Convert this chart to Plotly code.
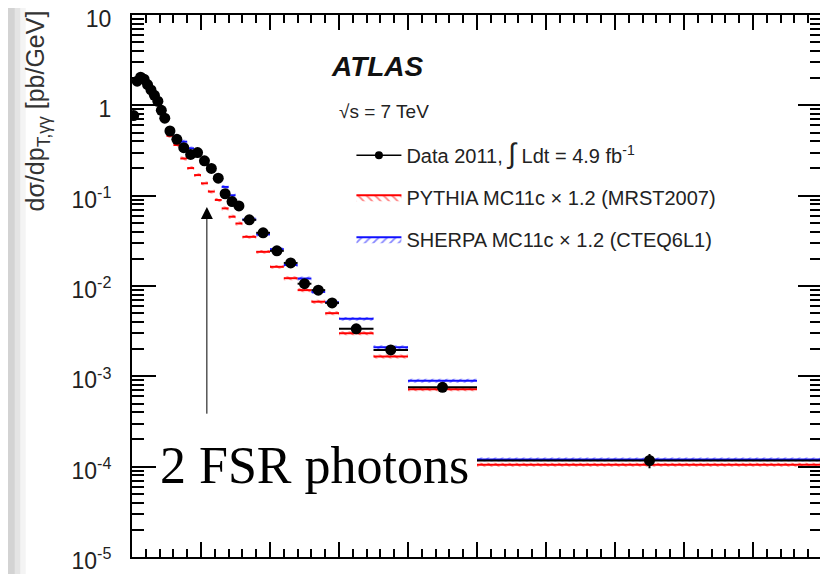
import plotly.graph_objects as go
import numpy as np

# ---------------- data ----------------
bin_edges = [0, 1, 2, 3, 4, 5, 6, 7, 8, 9, 10,
             12, 14, 16, 18, 20, 22, 24, 26, 28, 30, 32,
             36, 40, 44, 48, 52, 56, 60, 70, 80, 100, 200]

data_vals = [0.77, 1.85, 2.05, 1.95, 1.70, 1.48, 1.29, 1.11, 0.88, 0.72,
             0.52, 0.42, 0.34, 0.286, 0.30, 0.243, 0.20, 0.156, 0.105, 0.086, 0.077,
             0.054, 0.0388, 0.0245, 0.018, 0.0106, 0.0090, 0.0065,
             0.00336, 0.00196, 0.000755, 0.000117]
data_err_pct = [4, 3, 3, 3, 3, 3, 3, 3, 3, 3,
                3, 3, 3, 3, 3, 3, 3, 4, 4, 4, 4,
                4, 4, 5, 5, 6, 6, 7,
                8, 8, 10, 18]

pythia_vals = [0.75, 1.80, 2.00, 1.90, 1.66, 1.46, 1.26, 1.06, 0.86, 0.68,
               0.46, 0.364, 0.258, 0.202, 0.169, 0.137, 0.111, 0.0896, 0.0723, 0.0585, 0.0492,
               0.035, 0.0239, 0.0163, 0.0122, 0.0090, 0.0067, 0.0050,
               0.0030, 0.00166, 0.00072, 0.000105]

sherpa_vals = [0.78, 1.85, 2.05, 1.95, 1.70, 1.48, 1.29, 1.10, 0.88, 0.72,
               0.56, 0.45, 0.396, 0.334, 0.29, 0.24, 0.20, 0.155, 0.125, 0.101, 0.080,
               0.0545, 0.0372, 0.0256, 0.0171, 0.0121, 0.0086, 0.0066,
               0.00433, 0.0021, 0.000895, 0.00012]

band_pct = 5

y_tick_vals = [1e-5, 1e-4, 1e-3, 1e-2, 1e-1, 1, 10]
y_tick_text = ["10<sup>-5</sup>", "10<sup>-4</sup>", "10<sup>-3</sup>", "10<sup>-2</sup>",
               "10<sup>-1</sup>", "1", "10"]

data_label = "Data 2011, <span style='font-size:28px'>∫</span> Ldt = 4.9 fb<sup>-1</sup>"
pythia_label = "PYTHIA MC11c × 1.2 (MRST2007)"
sherpa_label = "SHERPA MC11c × 1.2 (CTEQ6L1)"

# ---------------- helpers ----------------
lo = np.array(bin_edges[:-1], dtype=float)
hi = np.array(bin_edges[1:], dtype=float)
centers = (lo + hi) / 2
half_w = (hi - lo) / 2


def step_lines(vals):
    xs, ys = [], []
    for a, b, v in zip(lo, hi, vals):
        xs += [a, b, None]
        ys += [v, v, None]
    return xs, ys


def band(vals, pct):
    xs, ys = [], []
    f = pct / 100.0
    for a, b, v in zip(lo, hi, vals):
        xs += [a, b, b, a, a, None]
        ys += [v * (1 - f), v * (1 - f), v * (1 + f), v * (1 + f), v * (1 - f), None]
    return xs, ys


fig = go.Figure()

mc = [
    (pythia_vals, "#ff0000", "\\", pythia_label, 2),
    (sherpa_vals, "#1010ff", "/", sherpa_label, 3),
]
for vals, col, shape, label, rank in mc:
    bx, by = band(vals, band_pct)
    fig.add_trace(go.Scatter(
        x=bx, y=by, mode="lines", fill="toself",
        fillcolor="rgba(0,0,0,0)",
        fillpattern=dict(shape=shape, fgcolor=col, size=5, solidity=0.3),
        line=dict(width=0, color=col),
        hoverinfo="skip", showlegend=False, legendgroup=label))
    sx, sy = step_lines(vals)
    fig.add_trace(go.Scatter(
        x=sx, y=sy, mode="lines", line=dict(color=col, width=2),
        showlegend=False, legendgroup=label, hoverinfo="skip"))
    # legend swatch
    fig.add_trace(go.Scatter(
        x=[None], y=[None], mode="lines", fill="toself",
        fillcolor="rgba(0,0,0,0)",
        fillpattern=dict(shape=shape, fgcolor=col, size=6, solidity=0.3),
        line=dict(color=col, width=2), name=label, legendgroup=label,
        legendrank=rank, showlegend=True))

# data
fig.add_trace(go.Scatter(
    x=centers, y=data_vals, mode="markers",
    marker=dict(color="black", size=11),
    error_x=dict(type="data", array=half_w, color="black", thickness=2, width=0),
    error_y=dict(type="data",
                 array=[v * p / 100 for v, p in zip(data_vals, data_err_pct)],
                 color="black", thickness=2, width=0),
    showlegend=False, hoverinfo="skip"))
fig.add_trace(go.Scatter(
    x=[None], y=[None], mode="lines+markers", name=data_label,
    line=dict(color="black", width=1.5), marker=dict(color="black", size=8),
    legendgroup="data", legendrank=1))

font_main = "Liberation Sans, Arial, sans-serif"

# faint grey strip at the very left edge of the slide
for i, op in enumerate([0.10, 0.16, 0.22]):
    fig.add_shape(type="rect", xref="paper", yref="paper",
                  x0=-0.18, x1=-0.18 + 0.026 - i * 0.008, y0=-0.04, y1=1.03,
                  fillcolor=f"rgba(150,150,150,{op})", line=dict(width=0), layer="below")

# The page body has an 8px default margin; the figure size compensates for it.
fig.update_layout(
    width=820, height=566,
    margin=dict(l=124, r=6, t=7, b=17),
    paper_bgcolor="white", plot_bgcolor="white",
    font=dict(family=font_main, color="#222222"),
    showlegend=True,
    legend=dict(x=0.318, y=0.777, xanchor="left", yanchor="top",
                bgcolor="rgba(0,0,0,0)", font=dict(size=20, family=font_main, color="#222"),
                itemwidth=45, tracegroupgap=13, traceorder="grouped"),
    xaxis=dict(range=[0, 200], showgrid=False, zeroline=False, automargin=False,
               showline=True, linecolor="black", linewidth=2, mirror="ticks",
               ticks="inside", ticklen=15, tickwidth=1.5, tickcolor="black",
               dtick=20, tick0=0, showticklabels=False,
               minor=dict(ticks="inside", ticklen=8, dtick=4, tickcolor="black", tickwidth=1.5)),
    yaxis=dict(type="log", range=[-5, 1], showgrid=False, zeroline=False, automargin=False,
               showline=True, linecolor="black", linewidth=2, mirror="ticks",
               ticks="inside", ticklen=24, tickwidth=1.5, tickcolor="black",
               tickvals=y_tick_vals, ticktext=y_tick_text,
               tickfont=dict(size=23, family=font_main, color="#222"),
               ticklabelstandoff=14, ticklabeloverflow="allow", ticklabelshift=4,
               minor=dict(ticks="inside", ticklen=12, dtick="D1", tickcolor="black", tickwidth=1.5)),
)

fig.add_annotation(x=0.286, y=0.905, xref="paper", yref="paper", xanchor="left",
                   yanchor="middle", showarrow=False,
                   text="<b><i>ATLAS</i></b>", font=dict(size=28, family=font_main, color="#111"))
fig.add_annotation(x=0.297, y=0.822, xref="paper", yref="paper", xanchor="left",
                   yanchor="middle", showarrow=False,
                   text="√s = 7 TeV", font=dict(size=19, family=font_main, color="#222"))
fig.add_annotation(x=-0.137, y=1.012, xref="paper", yref="paper", xanchor="center",
                   yanchor="top", textangle=-90, showarrow=False,
                   text="dσ/dp<sub>T,γγ</sub> [pb/GeV]",
                   font=dict(size=25, family=font_main, color="#333"))
# arrow
fig.add_annotation(x=21.7, y=np.log10(0.075), ax=21.7, ay=-3.43,
                   xref="x", yref="y", axref="x", ayref="y",
                   showarrow=True, arrowhead=2, arrowsize=2.4, arrowwidth=1,
                   arrowcolor="black", text="")
fig.add_annotation(x=0.038, y=0.168, xref="paper", yref="paper", xanchor="left",
                   yanchor="middle", showarrow=False, text="2 FSR photons",
                   font=dict(size=52, family="Liberation Serif, Times New Roman, serif", color="black"))

fig.write_html("out.html")
